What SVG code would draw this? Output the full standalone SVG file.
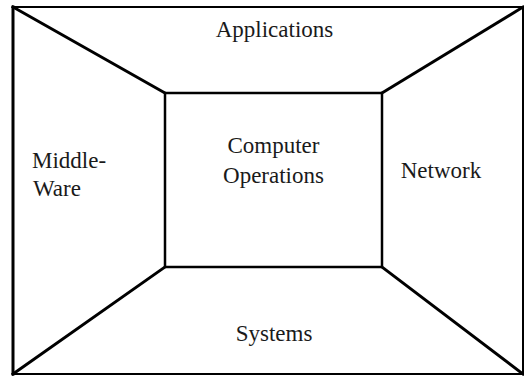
<svg xmlns="http://www.w3.org/2000/svg" width="524" height="376" viewBox="0 0 524 376">
<style>
.ln{stroke:#000;fill:none;stroke-width:3;stroke-linecap:square}
.t{font-family:"Liberation Serif","Times New Roman",serif;font-size:23px;fill:#1a1a1a}
.m{text-anchor:middle}
</style>
<rect width="524" height="376" fill="#fff"/>
<g id="frame">
<line class="ln" x1="13" y1="7" x2="523" y2="7" style="stroke-width:2"/>
<line class="ln" x1="13" y1="7" x2="13" y2="374"/>
<line class="ln" x1="13" y1="374" x2="523" y2="374" style="stroke-width:2"/>
<line class="ln" x1="523" y1="7" x2="523" y2="374" style="stroke-width:2"/>
</g>
<g id="connectors">
<line class="ln" x1="13" y1="7" x2="165" y2="93"/>
<line class="ln" x1="523" y1="7" x2="382" y2="93"/>
<line class="ln" x1="13" y1="374" x2="165" y2="267"/>
<line class="ln" x1="523" y1="374" x2="382" y2="267"/>
</g>
<g id="computer-operations">
<rect class="ln" x="165" y="93" width="217" height="174" style="stroke-width:2.5"/>
<text class="t m" x="273.5" y="153">Computer</text>
<text class="t m" x="273.5" y="182.5">Operations</text>
</g>
<g id="applications"><text class="t m" x="274.5" y="37">Applications</text></g>
<g id="systems"><text class="t m" x="274" y="341">Systems</text></g>
<g id="network"><text class="t m" x="441" y="178">Network</text></g>
<g id="middleware">
<text class="t" x="32" y="167.5">Middle-</text>
<text class="t" x="33" y="195.5">Ware</text>
</g>
</svg>
